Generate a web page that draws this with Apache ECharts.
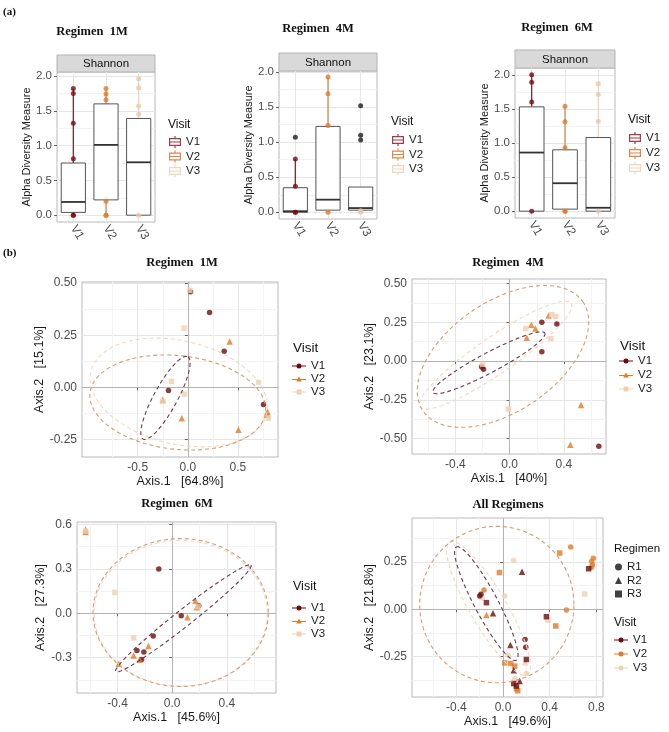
<!DOCTYPE html>
<html>
<head>
<meta charset="utf-8">
<script src="https://cdn.jsdelivr.net/npm/echarts@6/dist/echarts.min.js"></script>
<style>
html, body { margin: 0; padding: 0; background: #fff; }
#main { width: 669px; height: 732px; }
</style>
</head>
<body>
<div id="main"></div>
<script>
// ---------------- data ----------------
var visits = ['V1', 'V2', 'V3'];
var regimens = ['R1', 'R2', 'R3'];

// (a) Shannon boxplots: [whisker low, Q1, median, Q3, whisker high]
var box1M = [[0, 0.04, 0.19, 0.75, 1.82], [0, 0.22, 1.01, 1.60, 1.81], [0, 0, 0.76, 1.39, 1.96]];
var box4M = [[0, 0, 0.015, 0.35, 0.76], [0, 0.03, 0.18, 1.225, 1.93], [0, 0.03, 0.06, 0.36, 0.37]];
var box6M = [[0, 0, 0.86, 1.53, 2.0], [0, 0.03, 0.41, 0.90, 1.54], [0, 0, 0.05, 1.08, 1.87]];
// sample points per visit
var pts1M = [[1.82, 1.75, 1.32, 0.81, 0, 0], [1.82, 1.74, 1.66, 0.2, 0, 0], [1.96, 1.83, 1.57, 1.45, 0]];
var pts4M = [[0.76, 0.37, 0, 0], [1.93, 1.69, 1.24, 0], [0.02, 0]];
var pts6M = [[2.0, 1.89, 1.6, 0], [1.54, 1.31, 0.93, 0, 0], [1.87, 1.71, 1.32, 0]];
// boxplot outliers (black)
var out1M = [[], [], []];
var out4M = [[1.07], [], [1.52, 1.10, 1.03]];
var out6M = [[], [], []];
var boxTicks = [0, 0.5, 1, 1.5, 2];
var boxMinor = [0.25, 0.75, 1.25, 1.75];

// (b) PCoA ordination points [Axis.1, Axis.2]
var pc1M_V1 = [[0.027, 0.458], [0.217, 0.359], [0.363, 0.173], [-0.193, -0.014], [0.755, -0.082]];
var pc1M_V2 = [[0.417, 0.22], [-0.06, -0.148], [0.505, -0.203], [0.795, -0.116], [0.795, -0.131], [-0.25, -0.059]];
var pc1M_V3 = [[0.02, 0.465], [-0.037, 0.284], [-0.163, 0.029], [-0.033, -0.032], [-0.25, -0.067], [0.707, 0.024], [0.803, -0.147]];
var pc4M_V1 = [[0.237, 0.25], [0.348, 0.24], [0.237, 0.06], [-0.207, -0.036], [-0.193, -0.053], [0.657, -0.55]];
var pc4M_V2 = [[0.16, 0.235], [0.19, 0.21], [0.126, 0.15], [0.287, 0.295], [0.526, -0.284], [0.447, -0.54]];
var pc4M_V3 = [[0.309, 0.30], [0.34, 0.288], [0.304, 0.145], [0.119, 0.21], [-0.01, -0.31], [-0.2, -0.02]];
var pc6M_V1 = [[-0.098, 0.298], [0.194, 0.051], [0.066, -0.016], [-0.139, -0.153], [-0.258, -0.251], [-0.207, -0.262], [-0.224, -0.312]];
var pc6M_V2 = [[-0.633, 0.565], [-0.633, 0.549], [0.17, 0.085], [0.18, 0.04], [0.112, -0.027], [-0.173, -0.22], [-0.282, -0.285], [-0.239, -0.314], [-0.39, -0.341]];
var pc6M_V3 = [[-0.633, 0.556], [-0.419, 0.141], [0.19, 0.045], [-0.282, -0.166]];
// All regimens, by visit and regimen
var all_V1_R1 = [[-0.189, 0.08], [-0.2, 0.07], [0.189, -0.159], [0.195, -0.201]];
var all_V1_R2 = [[0.163, 0.198], [-0.086, -0.021], [0.063, -0.189], [0.092, -0.322], [0.143, -0.378]];
var all_V1_R3 = [[-0.142, 0.035], [0.734, 0.214], [0.372, -0.039], [0.2, -0.265], [0.092, -0.392], [0.115, -0.405]];
var all_V2_R1 = [[-0.163, 0.102], [0.58, 0.329], [0.774, 0.27], [0.76, 0.253], [0.766, 0.235], [0.76, 0.222], [0.543, -0.004]];
var all_V2_R2 = [[-0.142, -0.03]];
var all_V2_R3 = [[-0.031, 0.194], [0.486, 0.297], [0.452, -0.088], [0.015, -0.283], [0.066, -0.286], [0.1, -0.3], [0.115, -0.419], [0.126, -0.43]];
var all_V3_R1 = [[0.092, 0.258], [0.015, 0.07], [-0.177, 0.06], [0.043, -0.242], [0.1, -0.366], [0.2, -0.339]];
var all_V3_R2 = [[0.19, -0.28]];
var all_V3_R3 = [[0.7, 0.081], [0.386, -0.057]];

// 95% ellipses: [cx, cy, ax, ay, bx, by]  -> c + a*cos(t) + b*sin(t)
var ell1M = [[-0.223, -0.05, 0.223, 0.197, 0.103, -0.027], [-0.1, -0.072, 0.877, -0.04, 0.027, 0.224], [-0.09, -0.024, 0.883, -0.048, -0.067, 0.256]];
var ell4M = [[-0.153, -0.011, 0.412, 0.192, 0.035, -0.056], [-0.049, 0.03, 0.587, 0.355, 0.234, -0.289], [-0.104, 0.038, 0.556, 0.335, 0.078, -0.096]];
var ell6M = [[0.082, -0.034, 0.494, 0.359, 0.038, -0.044], [0.062, 0.005, 0.641, 0, 0, 0.499], [0.062, 0.0, 0.633, 0, 0, 0.492]];
var ellAll = [[-0.143, 0.03, -0.257, 0.299, 0.089, 0.029], [-0.053, 0.025, 0.661, 0, 0, 0.413], [-0.123, 0.004, -0.334, 0.35, 0.135, 0.049]];

// axis ticks
var p1X = [-0.5, 0, 0.5], p1Xm = [-0.75, -0.25, 0.25, 0.75];
var p1Y = [-0.25, 0, 0.25, 0.5], p1Ym = [-0.125, 0.125, 0.375];
var p2X = [-0.4, 0, 0.4], p2Xm = [-0.6, -0.2, 0.2, 0.6];
var p2Y = [-0.5, -0.25, 0, 0.25, 0.5], p2Ym = [-0.375, -0.125, 0.125, 0.375];
var p3X = [-0.4, 0, 0.4], p3Xm = [-0.6, -0.2, 0.2, 0.6];
var p3Y = [-0.3, 0, 0.3, 0.6], p3Ym = [-0.45, -0.15, 0.15, 0.45];
var p4X = [-0.4, 0, 0.4, 0.8], p4Xm = [-0.6, -0.2, 0.2, 0.6];
var p4Y = [-0.25, 0, 0.25], p4Ym = [-0.375, -0.125, 0.125, 0.375];

// ---------------- styles ----------------
var SANS = '"Liberation Sans", Arial, sans-serif';
var SERIF = '"Liberation Serif", "Times New Roman", serif';
var ptColor = ['#6e0b0b', '#e07a2a', '#efd0b0'];
var boxPtColor = ['#7a0e12', '#e07a2a', '#e9c8a4'];
var whiskColor = ['#7a2a30', '#d98a50', '#ecd6bf'];
var keyColor = ['#9c3e4e', '#e0884a', '#f0d6bd'];
var ellColor = ['#6e3a4c', '#d99a70', '#f0d9c4'];
var symbolOf = ['circle', 'triangle', 'rect'];

var BOX_ICON = 'path://M5.4,0H6.6V2H12V10H6.6V12H5.4V10H0V2H5.4Z M1.2,3.2V5.5H10.8V3.2Z M1.2,6.5V8.8H10.8V6.5Z';
var LINE = 'M0,4.5H14V5.5H0Z ';
var PT_ICON = [
  'path://' + LINE + 'M4.5,5A2.5,2.5,0,1,1,9.5,5A2.5,2.5,0,1,1,4.5,5Z',
  'path://' + LINE + 'M7,2L9.8,7.2H4.2Z',
  'path://' + LINE + 'M4.6,2.6H9.4V7.4H4.6Z'
];

var chart = echarts.init(document.getElementById('main'));
var grids = [], xAxes = [], yAxes = [], series = [], legends = [], graphics = [];

function fmt(d) { return function (v) { return Number(v).toFixed(d); }; }

function addGrid(r) {
  grids.push({ left: r[0], top: r[1], width: r[2], height: r[3], show: true,
    borderColor: '#b8b8b8', borderWidth: 1, backgroundColor: '#fff' });
  return grids.length - 1;
}

// minor grid axis + major labelled axis on the same grid
function addValueAxis(list, gi, pos, min, max, major, minor, digits, name, gap, nameSize, tickSize) {
  list.push({ type: 'value', gridIndex: gi, position: pos, min: min, max: max,
    axisLine: { show: false }, axisTick: { show: false, customValues: minor },
    axisLabel: { show: false, customValues: minor },
    splitLine: { show: true, lineStyle: { color: '#f3f3f3', width: 1 } } });
  list.push({ type: 'value', gridIndex: gi, position: pos, min: min, max: max,
    axisLine: { show: false },
    axisTick: { show: true, customValues: major, length: 3, lineStyle: { color: '#666' } },
    axisLabel: { customValues: major, formatter: fmt(digits), color: '#4d4d4d', fontSize: tickSize, fontFamily: SANS, margin: 5 },
    splitLine: { show: true, lineStyle: { color: '#e6e6e6', width: 1 } },
    name: name, nameLocation: 'middle', nameGap: gap,
    nameTextStyle: { fontSize: nameSize, color: '#1a1a1a', fontFamily: SANS } });
  return list.length - 1;
}

function addText(x, y, text, font, align) {
  graphics.push({ type: 'text', silent: true,
    style: { x: x, y: y, text: text, font: font, fill: '#111', textAlign: align || 'center', textVerticalAlign: 'middle' } });
}

function boxSeries(xi, yi, k, st) {
  return {
    type: 'custom', name: visits[k], xAxisIndex: xi, yAxisIndex: yi, silent: true, z: 3,
    itemStyle: { color: keyColor[k] },
    data: [[k].concat(st)],
    renderItem: function (params, api) {
      var i = api.value(0);
      var lo = api.coord([i, api.value(1)]), q1 = api.coord([i, api.value(2)]),
          md = api.coord([i, api.value(3)]), q3 = api.coord([i, api.value(4)]),
          hi = api.coord([i, api.value(5)]);
      var bw = api.size([1, 0])[0] * 0.74, x = lo[0];
      return { type: 'group', children: [
        { type: 'line', shape: { x1: x, y1: q3[1], x2: x, y2: hi[1] }, style: { stroke: whiskColor[k], lineWidth: 1.3 } },
        { type: 'line', shape: { x1: x, y1: lo[1], x2: x, y2: q1[1] }, style: { stroke: whiskColor[k], lineWidth: 1.3 } },
        { type: 'rect', shape: { x: x - bw / 2, y: q3[1], width: bw, height: Math.max(q1[1] - q3[1], 1) },
          style: { fill: '#fff', stroke: '#555', lineWidth: 1 } },
        { type: 'line', shape: { x1: x - bw / 2, y1: md[1], x2: x + bw / 2, y2: md[1] }, style: { stroke: '#333', lineWidth: 1.8 } }
      ] };
    }
  };
}

function ellipseSeries(xi, yi, e, color) {
  return {
    type: 'custom', xAxisIndex: xi, yAxisIndex: yi, silent: true, z: 5,
    data: [e],
    renderItem: function (params, api) {
      var cx = api.value(0), cy = api.value(1), ax = api.value(2), ay = api.value(3), bx = api.value(4), by = api.value(5);
      var pts = [];
      for (var s = 0; s <= 144; s++) {
        var t = s / 144 * Math.PI * 2;
        pts.push(api.coord([cx + ax * Math.cos(t) + bx * Math.sin(t), cy + ay * Math.cos(t) + by * Math.sin(t)]));
      }
      return { type: 'polyline', shape: { points: pts }, style: { stroke: color, fill: null, lineWidth: 1.1, lineDash: [4, 3] } };
    }
  };
}

function zeroLines() {
  return { silent: true, symbol: 'none', label: { show: false }, z: 1,
    lineStyle: { color: '#b3b3b3', type: 'solid', width: 1 },
    emphasis: { disabled: true }, data: [{ xAxis: 0 }, { yAxis: 0 }] };
}

// ---------------- (a) boxplot panels ----------------
function boxPanel(rect, ymin, ymax, stats, pts, outs, strip, title, leg) {
  var gi = addGrid(rect);
  xAxes.push({ type: 'category', gridIndex: gi, data: visits, boundaryGap: true,
    axisLine: { show: false },
    axisTick: { show: true, alignWithLabel: true, length: 3, lineStyle: { color: '#666' } },
    axisLabel: { rotate: -60, color: '#4d4d4d', fontSize: 12, fontFamily: SANS, margin: 4 },
    splitLine: { show: false } });
  var xi = xAxes.length - 1;
  var yi = addValueAxis(yAxes, gi, 'left', ymin, ymax, boxTicks, boxMinor, 1, 'Alpha Diversity Measure', 22, 11, 11.5);
  // vertical grid lines at the category centres, behind the boxes
  series.push({ type: 'scatter', xAxisIndex: xi, yAxisIndex: yi, silent: true, z: 1, data: [],
    markLine: { silent: true, symbol: 'none', label: { show: false }, emphasis: { disabled: true }, z: 1,
      lineStyle: { color: '#e6e6e6', type: 'solid', width: 1 },
      data: visits.map(function (v) { return { xAxis: v }; }) } });
  visits.forEach(function (v, k) {
    series.push(boxSeries(xi, yi, k, stats[k]));
    series.push({ type: 'scatter', name: v, xAxisIndex: xi, yAxisIndex: yi, silent: true, z: 4,
      symbolSize: 5, itemStyle: { color: boxPtColor[k] },
      data: pts[k].map(function (p) { return [k, p]; }) });
    if (outs[k].length) {
      series.push({ type: 'scatter', name: v, xAxisIndex: xi, yAxisIndex: yi, silent: true, z: 4,
        symbolSize: 5, itemStyle: { color: '#1a1a1a' },
        data: outs[k].map(function (p) { return [k, p]; }) });
    }
  });
  graphics.push({ type: 'rect', silent: true, shape: { x: rect[0], y: strip[0], width: rect[2], height: strip[1] },
    style: { fill: '#d9d9d9', stroke: '#b3b3b3', lineWidth: 1 } });
  addText(rect[0] + rect[2] / 2, strip[0] + strip[1] / 2 + 0.5, 'Shannon', '11.5px ' + SANS);
  addText(title[0], title[1], title[2], 'bold 12.5px ' + SERIF);
  addText(leg[0], leg[1], 'Visit', '12px ' + SANS, 'left');
  legends.push({ left: leg[0] + 1, top: leg[2], orient: 'vertical', padding: 0, itemGap: leg[3],
    itemWidth: 12, itemHeight: 12, selectedMode: false, itemStyle: { borderWidth: 0 },
    textStyle: { fontSize: 11.5, color: '#1a1a1a', fontFamily: SANS },
    data: visits.map(function (v, k) { return { name: v, icon: BOX_ICON, itemStyle: { color: keyColor[k] } }; }) });
}

boxPanel([57, 72, 98, 150], -0.098, 2.058, box1M, pts1M, out1M, [55, 17], [92, 32, 'Regimen  1M'], [168, 125, 136, 2.5]);
boxPanel([279, 71, 98, 148], -0.096, 2.016, box4M, pts4M, out4M, [53, 18], [318, 29, 'Regimen  4M'], [391, 122, 134, 2.5]);
boxPanel([515, 68, 100, 150], -0.1, 2.1, box6M, pts6M, out6M, [50, 18], [557, 28, 'Regimen  6M'], [628, 120, 132, 3]);

// ---------------- (b) PCoA panels ----------------
function pcoaAxes(rect, xr, yr, xt, xm, yt, ym, xd, yd, xName, yName, xGap, yGap) {
  var gi = addGrid(rect);
  var xi = addValueAxis(xAxes, gi, 'bottom', xr[0], xr[1], xt, xm, xd, xName, xGap, 12.5, 12);
  var yi = addValueAxis(yAxes, gi, 'left', yr[0], yr[1], yt, ym, yd, yName, yGap, 12.5, 12);
  return [xi, yi];
}

function pcoaPanel(rect, xr, yr, ticks, names, gaps, ell, groups, title, leg) {
  var ax = pcoaAxes(rect, xr, yr, ticks[0], ticks[1], ticks[2], ticks[3], ticks[4], ticks[5], names[0], names[1], gaps[0], gaps[1]);
  visits.forEach(function (v, k) {
    var s = { type: 'scatter', name: v, xAxisIndex: ax[0], yAxisIndex: ax[1], silent: true, z: 4,
      symbol: symbolOf[k], symbolSize: k === 1 ? 6.5 : 5.5, itemStyle: { color: ptColor[k] }, data: groups[k] };
    if (k === 0) s.markLine = zeroLines();
    series.push(s);
  });
  [2, 1, 0].forEach(function (k) { series.push(ellipseSeries(ax[0], ax[1], ell[k], ellColor[k])); });
  addText(title[0], title[1], title[2], 'bold 12.5px ' + SERIF);
  addText(leg[0], leg[1], 'Visit', leg[4] + 'px ' + SANS, 'left');
  legends.push({ left: leg[0] - 1, top: leg[2], orient: 'vertical', padding: 0, itemGap: leg[3],
    itemWidth: 14, itemHeight: 10, selectedMode: false, itemStyle: { borderWidth: 0 },
    textStyle: { fontSize: 11.5, color: '#1a1a1a', fontFamily: SANS },
    data: visits.map(function (v, k) { return { name: v, icon: PT_ICON[k], itemStyle: { color: ptColor[k] } }; }) });
}

pcoaPanel([82, 282, 196, 175], [-1.056, 0.9], [-0.333, 0.505], [p1X, p1Xm, p1Y, p1Ym, 1, 2],
  ['Axis.1   [64.8%]', 'Axis.2   [15.1%]'], [12, 25], ell1M, [pc1M_V1, pc1M_V2, pc1M_V3],
  [182, 263, 'Regimen  1M'], [293, 348, 360, 1, 13.5]);
pcoaPanel([412, 279, 194, 175], [-0.72, 0.71], [-0.60, 0.53], [p2X, p2Xm, p2Y, p2Ym, 1, 2],
  ['Axis.1   [40%]', 'Axis.2   [23.1%]'], [16, 26], ell4M, [pc4M_V1, pc4M_V2, pc4M_V3],
  [508, 263, 'Regimen  4M'], [620, 346, 355, 2, 13.5]);
pcoaPanel([77, 522, 199, 171], [-0.696, 0.759], [-0.538, 0.616], [p3X, p3Xm, p3Y, p3Ym, 1, 1],
  ['Axis.1   [45.6%]', 'Axis.2   [27.3%]'], [16, 23], ell6M, [pc6M_V1, pc6M_V2, pc6M_V3],
  [177, 504, 'Regimen  6M'], [293, 587, 602, 1, 12.5]);

// All regimens panel
(function () {
  var ax = pcoaAxes([412, 518, 191, 179], [-0.78, 0.857], [-0.463, 0.482], p4X, p4Xm, p4Y, p4Ym, 1, 2,
    'Axis.1   [49.6%]', 'Axis.2   [21.8%]', 12, 28);
  var groups = [[all_V1_R1, all_V1_R2, all_V1_R3], [all_V2_R1, all_V2_R2, all_V2_R3], [all_V3_R1, all_V3_R2, all_V3_R3]];
  [2, 1, 0].forEach(function (k) {
    regimens.forEach(function (r, j) {
      var s = { type: 'scatter', name: r, xAxisIndex: ax[0], yAxisIndex: ax[1], silent: true, z: 4,
        symbol: symbolOf[j], symbolSize: j === 1 ? 6.5 : 5.5, itemStyle: { color: ptColor[k] }, data: groups[k][j] };
      if (k === 2 && j === 0) s.markLine = zeroLines();
      series.push(s);
    });
  });
  [2, 1, 0].forEach(function (k) { series.push(ellipseSeries(ax[0], ax[1], ellAll[k], ellColor[k])); });
  addText(508, 505, 'All Regimens', 'bold 12.5px ' + SERIF);
  addText(614, 549, 'Regimen', '11.5px ' + SANS, 'left');
  legends.push({ left: 615, top: 561, orient: 'vertical', padding: 0, itemGap: 1.5,
    itemWidth: 7, itemHeight: 7, selectedMode: false, itemStyle: { borderWidth: 0 },
    textStyle: { fontSize: 11.5, color: '#1a1a1a', fontFamily: SANS },
    data: regimens.map(function (r, j) { return { name: r, icon: symbolOf[j], itemStyle: { color: '#111' } }; }) });
  addText(614, 623, 'Visit', '12px ' + SANS, 'left');
  legends.push({ left: 614, top: 634, orient: 'vertical', padding: 0, itemGap: 2,
    itemWidth: 14, itemHeight: 10, selectedMode: false, itemStyle: { borderWidth: 0 },
    textStyle: { fontSize: 11.5, color: '#1a1a1a', fontFamily: SANS },
    data: visits.map(function (v, k) { return { name: v, icon: PT_ICON[0], itemStyle: { color: ptColor[k] } }; }) });
})();

addText(3, 12, '(a)', 'bold 11px ' + SERIF, 'left');
addText(3, 253, '(b)', 'bold 11px ' + SERIF, 'left');

chart.setOption({
  animation: false,
  backgroundColor: '#fff',
  grid: grids,
  xAxis: xAxes,
  yAxis: yAxes,
  legend: legends,
  series: series,
  graphic: { elements: graphics }
});
</script>
</body>
</html>
